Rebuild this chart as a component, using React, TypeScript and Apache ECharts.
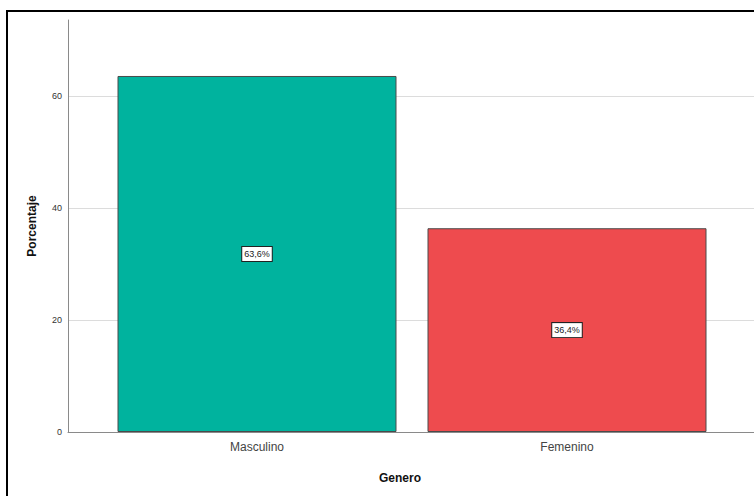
import React, { useEffect, useRef } from "react";
import * as echarts from "echarts";

const categories = ["Masculino", "Femenino"];
const percentages = [63.6, 36.4];
const barColors = ["#00B39E", "#EE4B4E"];
const yTicks = [0, 20, 40, 60];

export default function App() {
  const ref = useRef<HTMLDivElement>(null);
  useEffect(() => {
    document.body.style.margin = "0";
    const chart = echarts.init(ref.current!, undefined, { renderer: "svg" });
    const yMax = 73.6;
    chart.setOption({
      animation: false,
      backgroundColor: "#fff",
      grid: [
        { left: 102, right: 32, top: 20, bottom: 64 },
        { left: 68, right: 0, top: 20, bottom: 64 },
      ],
      xAxis: [
        {
          type: "category",
          gridIndex: 0,
          data: categories,
          axisLine: { show: false },
          axisTick: { show: false },
          axisLabel: { color: "#444", fontSize: 12, fontFamily: "Liberation Sans, Arial, sans-serif", margin: 9 },
        },
        {
          type: "value",
          gridIndex: 1,
          min: 0,
          max: 1,
          axisLine: { show: true, onZero: false, lineStyle: { color: "#8a8a8a", width: 1 } },
          axisTick: { show: false },
          axisLabel: { show: false },
          splitLine: { show: false },
        },
      ],
      yAxis: [
        {
          type: "value",
          gridIndex: 0,
          min: 0,
          max: yMax,
          show: false,
          splitLine: { show: false },
        },
        {
          type: "value",
          gridIndex: 1,
          min: 0,
          max: yMax,
          interval: 20,
          name: "Porcentaje",
          nameLocation: "middle",
          nameGap: 30,
          nameTextStyle: { color: "#111", fontSize: 12, fontWeight: "bold", fontFamily: "Liberation Sans, Arial, sans-serif" },
          axisLine: { show: true, lineStyle: { color: "#8a8a8a", width: 1 } },
          axisTick: { show: false },
          axisLabel: {
            color: "#333",
            fontSize: 9,
            margin: 6,
            fontFamily: "Liberation Sans, Arial, sans-serif",
            formatter: (v: number) => (yTicks.includes(v) ? String(v) : ""),
          },
          splitLine: {
            show: true,
            lineStyle: { color: ["#dcdcdc", "#dcdcdc", "#dcdcdc", "#dcdcdc", "rgba(0,0,0,0)"], width: 1 },
          },
        },
      ],
      series: [
        {
          type: "bar",
          xAxisIndex: 0,
          yAxisIndex: 0,
          barWidth: 279,
          data: percentages.map((v, i) => ({
            value: v,
            itemStyle: { color: barColors[i], borderColor: "#4a4a4a", borderWidth: 1 },
          })),
          label: {
            show: true,
            position: "inside",
            formatter: (p: any) => String(p.value).replace(".", ",") + "%",
            color: "#222",
            fontSize: 9,
            fontFamily: "Liberation Sans, Arial, sans-serif",
            backgroundColor: "#fff",
            borderColor: "#222",
            borderWidth: 1,
            padding: [3, 2, 2, 2],
          },
        },
      ],
      graphic: [
        {
          type: "rect",
          shape: { x: 7, y: 11, width: 900, height: 700 },
          style: { fill: "none", stroke: "#000", lineWidth: 2 },
          silent: true,
        },
        {
          type: "text",
          x: 400,
          y: 478,
          style: {
            text: "Genero",
            align: "center",
            verticalAlign: "middle",
            fill: "#111",
            font: "bold 12px Liberation Sans, Arial, sans-serif",
          },
        },
      ],
    });
    return () => chart.dispose();
  }, []);
  return <div ref={ref} style={{ width: 754, height: 496 }} />;
}
